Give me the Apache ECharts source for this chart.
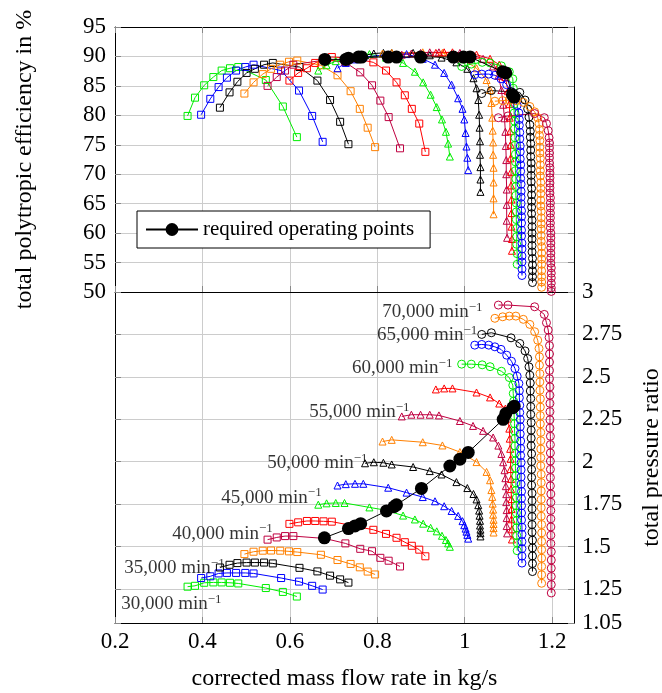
<!DOCTYPE html>
<html><head><meta charset="utf-8">
<script src="https://cdn.jsdelivr.net/npm/echarts@6/dist/echarts.min.js"></script>
<style>html,body{margin:0;padding:0;background:#fff}#c{width:662px;height:693px}</style>
</head><body><div id="c"></div>
<script>
// ---------------- DATA ----------------
const speeds = [30000,32500,35000,37500,40000,42500,45000,47500,50000,52500,55000,57500,60000,62500,65000,67500,70000];

const flow_30000 = [0.366,0.383,0.404,0.425,0.444,0.463,0.482,0.545,0.584,0.616];
const pr_30000   = [1.264,1.269,1.287,1.289,1.289,1.287,1.283,1.256,1.233,1.206];
const eff_30000  = [79.9,83.0,85.1,86.5,87.6,88.0,88.2,86.0,81.5,76.3];

const flow_32500 = [0.397,0.418,0.437,0.456,0.477,0.498,0.517,0.580,0.621,0.651,0.675];
const pr_32500   = [1.315,1.325,1.342,1.345,1.345,1.345,1.342,1.315,1.294,1.269,1.247];
const eff_32500  = [80.1,82.8,84.8,86.4,87.6,88.2,88.6,87.6,84.2,79.9,75.5];

const flow_35000 = [0.440,0.462,0.480,0.501,0.520,0.541,0.561,0.622,0.663,0.692,0.715,0.734];
const pr_35000   = [1.377,1.393,1.403,1.406,1.406,1.406,1.401,1.375,1.354,1.329,1.307,1.288];
const eff_35000  = [81.3,83.9,85.7,87.2,87.9,88.6,88.9,88.2,85.9,82.6,78.9,75.1];

const flow_37500 = [0.496,0.517,0.538,0.557,0.578,0.598,0.617,0.671,0.709,0.739,0.760,0.778,0.795];
const pr_37500   = [1.456,1.470,1.476,1.477,1.476,1.472,1.468,1.452,1.421,1.398,1.378,1.353,1.336];
const eff_37500  = [83.7,85.6,87.0,87.9,88.6,89.1,89.3,88.5,86.8,84.1,81.1,77.9,74.6];

const flow_40000 = [0.549,0.570,0.589,0.608,0.680,0.727,0.761,0.788,0.807,0.826,0.852];
const pr_40000   = [1.541,1.554,1.562,1.562,1.548,1.519,1.487,1.473,1.434,1.417,1.383];
const eff_40000  = [85.0,86.5,87.6,88.6,89.4,89.0,87.3,85.1,82.5,79.7,74.4];

const flow_42500 = [0.599,0.619,0.639,0.658,0.677,0.696,0.745,0.791,0.820,0.844,0.863,0.879,0.896,0.910];
const pr_42500   = [1.634,1.643,1.651,1.651,1.649,1.647,1.623,1.599,1.575,1.552,1.526,1.505,1.482,1.443];
const eff_42500  = [85.9,87.2,88.0,88.9,89.6,89.9,89.7,89.0,87.6,85.6,83.4,81.1,78.6,73.8];

const flow_45000 = [0.665,0.684,0.705,0.725,0.782,0.820,0.859,0.886,0.905,0.922,0.936,0.948,0.957,0.962,0.966];
const pr_45000   = [1.747,1.755,1.757,1.757,1.731,1.714,1.683,1.660,1.635,1.611,1.590,1.564,1.539,1.519,1.499];
const eff_45000  = [87.6,88.5,89.2,89.6,90.4,89.8,88.9,87.4,85.6,83.5,81.4,79.3,77.2,75.2,73.0];

const flow_47500 = [0.709,0.728,0.749,0.768,0.825,0.867,0.904,0.932,0.953,0.970,0.985,0.995,0.999,1.002,1.004,1.006,1.008];
const pr_47500   = [1.860,1.868,1.870,1.870,1.847,1.818,1.792,1.767,1.738,1.710,1.681,1.650,1.626,1.606,1.588,1.569,1.547];
const eff_47500  = [88.0,88.9,89.5,89.9,90.3,90.4,89.6,88.6,87.2,85.2,82.9,81.1,79.3,77.0,74.7,72.8,70.7];

const flow_50000 = [0.772,0.792,0.814,0.833,0.882,0.920,0.947,0.981,1.006,1.020,1.027,1.031,1.033,1.034,1.035,1.035,1.036,1.036,1.036];
const pr_50000   = [1.991,1.997,1.994,1.984,1.969,1.945,1.925,1.880,1.845,1.810,1.778,1.744,1.712,1.682,1.652,1.624,1.600,1.579,1.560];
const eff_50000  = [90.2,90.5,90.6,90.6,90.6,90.2,89.8,89.0,87.9,86.3,84.6,82.6,80.1,77.9,75.6,73.3,71.2,69.1,67.0];

const flow_52500 = [0.812,0.833,0.904,0.949,0.989,1.027,1.050,1.058,1.061,1.063,1.064,1.065,1.065,1.066,1.066,1.066,1.066];
const pr_52500   = [2.119,2.129,2.115,2.096,2.057,1.998,1.940,1.891,1.833,1.793,1.753,1.718,1.688,1.658,1.633,1.609,1.583];
const eff_52500  = [90.5,90.6,90.7,90.6,89.8,88.0,86.0,84.3,82.1,79.6,77.4,75.4,73.3,71.1,68.6,65.9,63.2];

const flow_55000 = [0.856,0.878,0.899,0.920,0.941,0.989,1.019,1.042,1.065,1.077,1.084,1.088,1.091,1.093,1.094,1.095,1.095,1.096,1.096,1.096,1.097];
const pr_55000   = [2.267,2.277,2.277,2.277,2.273,2.240,2.211,2.182,2.143,2.095,2.046,1.997,1.950,1.903,1.856,1.809,1.762,1.715,1.668,1.621,1.578];
const eff_55000  = [90.3,90.5,90.6,90.7,90.7,90.6,90.2,89.6,88.3,86.7,84.3,81.8,79.5,77.2,74.8,72.4,70.0,67.4,64.8,62.1,59.2];

const flow_57500 = [0.934,0.953,0.972,1.027,1.058,1.079,1.093,1.099,1.102,1.103,1.104,1.105,1.105,1.106,1.106,1.107,1.107,1.107,1.108,1.108];
const pr_57500   = [2.426,2.432,2.432,2.408,2.379,2.343,2.313,2.254,2.195,2.136,2.076,2.017,1.957,1.898,1.839,1.780,1.721,1.661,1.602,1.542];
const eff_57500  = [90.6,90.7,90.7,90.3,89.6,88.6,86.5,84.1,81.9,79.6,77.3,75.0,72.7,70.4,68.1,65.7,63.4,61.1,59.0,57.0];

const flow_60000 = [0.993,1.015,1.040,1.058,1.084,1.102,1.110,1.111,1.112,1.113,1.113,1.114,1.114,1.115,1.115,1.116,1.116,1.116,1.117,1.117,1.117,1.118,1.118,1.118,1.119,1.119,1.119,1.120,1.120];
const pr_60000   = [2.575,2.575,2.571,2.560,2.533,2.496,2.451,2.402,2.357,2.313,2.270,2.224,2.181,2.137,2.093,2.051,2.005,1.962,1.917,1.875,1.830,1.787,1.741,1.699,1.653,1.611,1.566,1.522,1.476];
const eff_60000  = [88.3,88.7,89.0,88.9,88.4,87.4,86.2,84.6,83.2,81.9,80.4,79.0,77.7,76.2,74.9,73.4,72.1,70.6,69.2,67.9,66.4,65.1,63.6,62.3,60.8,59.4,58.1,56.5,54.7];

const flow_62500 = [1.023,1.039,1.055,1.069,1.083,1.096,1.107,1.115,1.120,1.124,1.125,1.125,1.126,1.126,1.127,1.127,1.127,1.128,1.128,1.128,1.129,1.129,1.129,1.129,1.130,1.130,1.130,1.130,1.130,1.131,1.131,1.131,1.131,1.131,1.131];
const pr_62500   = [2.687,2.691,2.687,2.677,2.662,2.628,2.592,2.549,2.504,2.461,2.418,2.377,2.333,2.290,2.249,2.206,2.164,2.122,2.079,2.037,1.995,1.952,1.910,1.868,1.825,1.784,1.741,1.698,1.657,1.614,1.572,1.529,1.488,1.444,1.403];
const eff_62500  = [86.9,87.0,87.0,86.8,86.2,85.2,84.0,82.8,81.7,80.4,79.3,78.3,77.1,76.0,74.8,73.8,72.6,71.6,70.5,69.3,68.3,67.1,66.1,65.0,63.8,62.8,61.7,60.5,59.5,58.3,57.3,56.1,55.1,53.9,52.8];

const flow_65000 = [1.039,1.061,1.106,1.126,1.138,1.144,1.147,1.149,1.150,1.150,1.151,1.151,1.151,1.152,1.152,1.152,1.152,1.153,1.153,1.153,1.153,1.153,1.154,1.154,1.154,1.154,1.154,1.154,1.155,1.155,1.155,1.155,1.155];
const pr_65000   = [2.750,2.760,2.730,2.697,2.653,2.608,2.559,2.510,2.464,2.417,2.372,2.325,2.279,2.231,2.186,2.139,2.094,2.047,2.001,1.955,1.908,1.862,1.815,1.770,1.723,1.677,1.630,1.585,1.538,1.492,1.445,1.400,1.353];
const eff_65000  = [83.7,84.2,84.0,83.9,82.6,81.1,79.7,78.4,77.3,76.3,75.2,74.1,73.0,71.9,70.9,69.8,68.7,67.6,66.5,65.4,64.4,63.3,62.2,61.1,60.0,59.0,57.9,56.8,55.7,54.6,53.6,52.6,51.6];

const flow_67500 = [1.069,1.087,1.102,1.117,1.134,1.149,1.160,1.167,1.170,1.171,1.171,1.172,1.172,1.172,1.173,1.173,1.173,1.173,1.174,1.174,1.174,1.174,1.174,1.175,1.175,1.175,1.175,1.175,1.175,1.176,1.176,1.176,1.176,1.176,1.176,1.176,1.176];
const pr_67500   = [2.845,2.854,2.858,2.858,2.839,2.809,2.766,2.716,2.667,2.618,2.569,2.519,2.470,2.421,2.371,2.322,2.272,2.223,2.173,2.124,2.075,2.025,1.976,1.926,1.877,1.828,1.778,1.729,1.679,1.630,1.581,1.531,1.482,1.432,1.383,1.334,1.284];
const eff_67500  = [82.4,82.5,82.6,82.5,82.2,81.5,80.6,79.6,78.6,77.6,76.6,75.7,74.6,73.6,72.7,71.6,70.6,69.7,68.6,67.6,66.7,65.6,64.6,63.7,62.6,61.6,60.7,59.6,58.6,57.7,56.6,55.6,54.7,53.6,52.6,51.7,50.8];

const flow_70000 = [1.077,1.099,1.160,1.182,1.187,1.191,1.193,1.194,1.194,1.194,1.194,1.194,1.195,1.195,1.195,1.195,1.195,1.195,1.196,1.196,1.196,1.196,1.196,1.196,1.196,1.197,1.197,1.197,1.197,1.197,1.197,1.197,1.198,1.198,1.198,1.198,1.198,1.198];
const pr_70000   = [2.923,2.923,2.913,2.868,2.819,2.776,2.732,2.684,2.635,2.587,2.538,2.489,2.441,2.392,2.344,2.295,2.247,2.198,2.150,2.101,2.052,2.004,1.955,1.907,1.858,1.810,1.761,1.713,1.664,1.616,1.567,1.518,1.470,1.421,1.373,1.324,1.276,1.227];
const eff_70000  = [79.6,79.9,80.3,79.6,78.6,77.4,76.2,75.3,74.5,73.6,72.8,71.9,71.1,70.2,69.4,68.5,67.7,66.8,66.0,65.1,64.3,63.4,62.6,61.7,60.9,60.0,59.2,58.3,57.5,56.6,55.8,54.9,54.1,53.2,52.4,51.5,50.7,50.1];

// required operating points
const opFlowEff = [0.680,0.728,0.734,0.757,0.764,0.825,0.844,0.899,0.974,0.997,1.012,1.087,1.094,1.109,1.113];
const opEff     = [89.5,89.5,89.7,89.9,89.9,89.9,89.9,89.9,89.9,89.9,89.9,87.4,87.2,83.5,83.1];
const opFlowPr  = [0.679,0.734,0.749,0.762,0.821,0.838,0.844,0.901,0.966,0.989,1.008,1.088,1.094,1.110,1.113];
const opPr      = [1.552,1.606,1.622,1.635,1.710,1.735,1.746,1.843,1.975,2.015,2.055,2.250,2.284,2.318,2.327];

// speed annotations
const speedLabels    = ['30,000','35,000','40,000','45,000','50,000','55,000','60,000','65,000','70,000'];
const speedLabelFlow = [0.445,0.452,0.562,0.674,0.779,0.875,0.973,1.030,1.042];
const speedLabelPr   = [1.163,1.376,1.577,1.789,1.995,2.291,2.551,2.746,2.882];

// axis ticks
const xTicks   = [0.2,0.4,0.6,0.8,1.0,1.2];
const prTicks  = [1.05,1.25,1.5,1.75,2,2.25,2.5,2.75,3];

// ---------------- STYLE / BUILD ----------------
const lines = [
  [flow_30000,pr_30000,eff_30000],[flow_32500,pr_32500,eff_32500],[flow_35000,pr_35000,eff_35000],
  [flow_37500,pr_37500,eff_37500],[flow_40000,pr_40000,eff_40000],[flow_42500,pr_42500,eff_42500],
  [flow_45000,pr_45000,eff_45000],[flow_47500,pr_47500,eff_47500],[flow_50000,pr_50000,eff_50000],
  [flow_52500,pr_52500,eff_52500],[flow_55000,pr_55000,eff_55000],[flow_57500,pr_57500,eff_57500],
  [flow_60000,pr_60000,eff_60000],[flow_62500,pr_62500,eff_62500],[flow_65000,pr_65000,eff_65000],
  [flow_67500,pr_67500,eff_67500],[flow_70000,pr_70000,eff_70000]
];
const palette = ['#00ee00','#0000ff','#000000','#ff8000','#bf0040','#ff0000'];
const FONT = "'Liberation Serif','DejaVu Serif',serif";

const series = [];
lines.forEach((ln, i) => {
  const color = palette[i % 6];
  const sym = i < 6 ? 'rect' : (i < 12 ? 'triangle' : 'circle');
  const size = i < 6 ? 7 : (i < 12 ? 7 : 8);
  const common = {
    type: 'line', silent: true, symbol: sym, symbolSize: size, showAllSymbol: true,
    lineStyle: { color: color, width: 1 },
    itemStyle: { color: 'rgba(0,0,0,0)', borderColor: color, borderWidth: 1 },
    z: 2, animation: false
  };
  series.push(Object.assign({}, common, { name: 'n' + speeds[i] + 'e', xAxisIndex: 0, yAxisIndex: 0,
    data: ln[0].map((x, j) => [x, ln[2][j]]) }));
  series.push(Object.assign({}, common, { name: 'n' + speeds[i] + 'p', xAxisIndex: 1, yAxisIndex: 1,
    data: ln[0].map((x, j) => [x, ln[1][j]]) }));
});
const opCommon = { type: 'line', name: 'required operating points', silent: true, symbol: 'circle', symbolSize: 13,
  lineStyle: { color: '#000', width: 1 }, itemStyle: { color: '#000' }, z: 5, animation: false };
series.push(Object.assign({}, opCommon, { xAxisIndex: 0, yAxisIndex: 0, data: opFlowEff.map((x, j) => [x, opEff[j]]) }));
series.push(Object.assign({}, opCommon, { xAxisIndex: 1, yAxisIndex: 1, data: opFlowPr.map((x, j) => [x, opPr[j]]) }));

series.push({
  type: 'scatter', xAxisIndex: 1, yAxisIndex: 1, silent: true, symbolSize: 1, z: 6, animation: false,
  itemStyle: { color: 'rgba(0,0,0,0)' },
  data: speedLabels.map((s, j) => ({ name: s, value: [speedLabelFlow[j], speedLabelPr[j]] })),
  label: { show: true, position: 'left', distance: 0,
    formatter: p => '{a|' + p.name + ' min}{s|\u22121}',
    rich: { a: { fontFamily: FONT, fontSize: 19, color: '#000', lineHeight: 22 },
            s: { fontFamily: FONT, fontSize: 13, color: '#000', verticalAlign: 'top', lineHeight: 13 } } }
});

const gridLine = { show: true, lineStyle: { color: '#cccccc', width: 1 } };
const tickIn = { show: true, inside: true, length: 6, lineStyle: { color: '#888888' } };
const axLine = { show: true, onZero: false, lineStyle: { color: '#000', width: 1 } };
const lab = { fontFamily: FONT, fontSize: 23, color: '#000' };

const option = {
  backgroundColor: '#fff',
  animation: false,
  legend: {
    data: ['required operating points'], left: 137, top: 211,
    padding: [8, 16, 8, 8], itemWidth: 52, itemHeight: 16, itemGap: 0,
    textStyle: { fontFamily: FONT, fontSize: 21, color: '#000' },
    borderColor: '#000', borderWidth: 1, backgroundColor: '#fff', borderRadius: 0,
    selectedMode: false
  },
  grid: [
    { left: 115, top: 27, width: 459, height: 265, show: false, containLabel: false, outerBoundsMode: 'none' },
    { left: 115, top: 292, width: 459, height: 331, show: false, containLabel: false, outerBoundsMode: 'none' }
  ],
  xAxis: [
    { gridIndex: 0, type: 'value', min: 0.2, max: 1.25, axisLine: axLine,
      axisTick: Object.assign({}, tickIn, { customValues: xTicks }), axisLabel: { show: false, customValues: xTicks },
      splitLine: gridLine },
    { gridIndex: 1, type: 'value', min: 0.2, max: 1.25, axisLine: axLine,
      axisTick: Object.assign({}, tickIn, { customValues: xTicks }),
      axisLabel: Object.assign({ customValues: xTicks, margin: 7 }, lab),
      splitLine: gridLine,
      name: 'corrected mass flow rate in kg/s', nameLocation: 'middle', nameGap: 44,
      nameTextStyle: { fontFamily: FONT, fontSize: 24, color: '#000' } },
    { gridIndex: 0, type: 'value', position: 'top', min: 0.2, max: 1.25, axisLine: axLine,
      axisTick: Object.assign({}, tickIn, { customValues: xTicks }), axisLabel: { show: false, customValues: xTicks },
      splitLine: { show: false } }
  ],
  yAxis: [
    { gridIndex: 0, type: 'value', position: 'left', min: 50, max: 95, interval: 5, axisLine: axLine,
      axisTick: tickIn, axisLabel: Object.assign({ margin: 9 }, lab), splitLine: gridLine,
      name: 'total polytropic efficiency in %', nameLocation: 'middle', nameGap: 78, nameRotate: 90,
      nameTextStyle: { fontFamily: FONT, fontSize: 24, color: '#000' } },
    { gridIndex: 1, type: 'value', position: 'right', min: 1.05, max: 3, axisLine: axLine,
      axisTick: Object.assign({}, tickIn, { customValues: prTicks }),
      axisLabel: Object.assign({ customValues: prTicks, margin: 8 }, lab), splitLine: gridLine,
      name: 'total pressure ratio', nameLocation: 'middle', nameGap: 66, nameRotate: 90,
      nameTextStyle: { fontFamily: FONT, fontSize: 24, color: '#000' } },
    { gridIndex: 0, type: 'value', position: 'right', min: 50, max: 95, interval: 5, axisLine: axLine,
      axisTick: tickIn, axisLabel: { show: false }, splitLine: { show: false } },
    { gridIndex: 1, type: 'value', position: 'left', min: 1.05, max: 3, axisLine: axLine,
      axisTick: Object.assign({}, tickIn, { customValues: prTicks }), axisLabel: { show: false, customValues: prTicks },
      splitLine: { show: false } }
  ],
  series: series
};
const chart = echarts.init(document.getElementById('c'), null, { renderer: 'canvas' });
chart.setOption(option);
</script>
</body></html>
